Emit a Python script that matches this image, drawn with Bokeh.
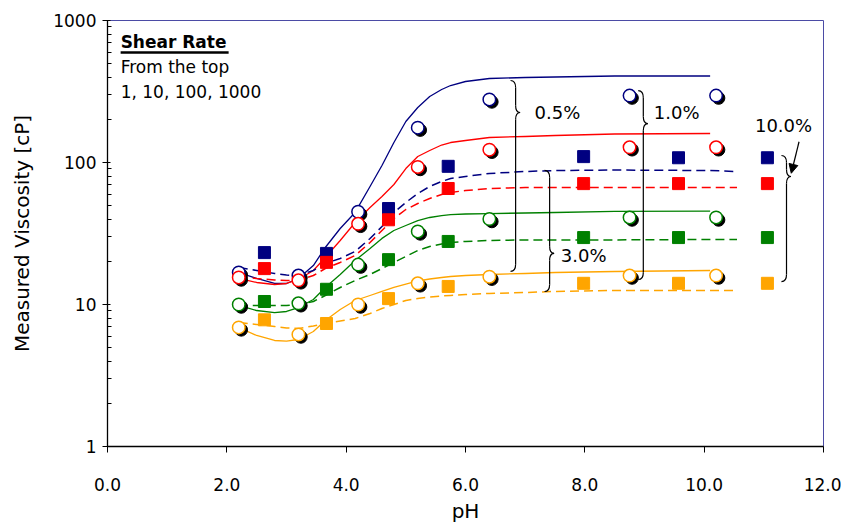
import numpy as np
from bokeh.plotting import figure
from bokeh.models import FixedTicker, Arrow, NormalHead
from bokeh.core.properties import value
from bokeh.embed import file_html
from bokeh.resources import INLINE

# ---------------- data ----------------
circle_ph = [2.2, 3.2, 4.2, 5.2, 6.4, 8.75, 10.2]
circle_navy = [16.8, 16.0, 45.0, 176, 278, 296, 296]
circle_red = [15.5, 14.8, 37.0, 93, 123, 128, 128]
circle_green = [10.0, 10.2, 19.1, 32.7, 40.0, 41.0, 41.0]
circle_orange = [6.9, 6.15, 10.0, 14.1, 15.7, 16.0, 16.0]

square_ph = [2.63, 3.67, 4.71, 5.71, 7.98, 9.57, 11.06]
square_navy = [23.2, 22.9, 47.4, 94, 110, 108, 108]
square_red = [17.9, 19.8, 39.5, 65.6, 71, 71, 71]
square_green = [10.5, 12.8, 20.7, 27.8, 29.6, 29.6, 29.6]
square_orange = [7.8, 7.35, 11.0, 13.4, 14.1, 14.1, 14.1]

# solid fitted curves
fit_ph = [2.2, 2.5, 2.8, 3.0, 3.2, 3.45, 3.65, 3.9, 4.15, 4.4, 4.6, 4.8, 5.0,
          5.2, 5.4, 5.6, 5.75, 6.0, 6.4, 7.0, 7.5, 8.5, 10.1]
fit_navy = [16.8, 15.25, 14.06, 14.06, 15.25, 18.8, 25.2, 34.3, 44.5, 67.8, 95.3,
            138.3, 194.4, 244, 291.6, 326.7, 348.5, 371.9, 390.4, 396.8, 400.1,
            406.7, 406.7]
fit_red = [15.25, 14.29, 13.83, 14.06, 15.0, 17.36, 21.43, 28.23, 37.8, 48.2, 57.6,
           70.0, 90.7, 110.2, 121.5, 132.8, 138.3, 142.9, 150.0, 152.5, 154.9,
           158.8, 160.0]
fit_green = [9.84, 9.07, 8.78, 8.93, 9.52, 10.85, 13.18, 16.27, 20.41, 24.8, 29.2,
             33.2, 36.0, 39.0, 41.0, 42.3, 43.0, 43.4, 43.7, 44.1, 44.45, 45.2, 45.5]
fit_orange = [6.89, 6.05, 5.58, 5.53, 5.67, 6.45, 7.72, 9.22, 10.67, 11.57, 12.35,
              13.18, 13.94, 14.64, 15.12, 15.49, 15.75, 16.0, 16.27, 16.53, 16.8,
              17.08, 17.36]

# dashed fitted curves
dash_ph = [2.2, 2.5, 2.8, 3.0, 3.2, 3.45, 3.65, 3.9, 4.15, 4.4, 4.6, 4.8, 5.0,
           5.2, 5.4, 5.6, 5.75, 6.0, 6.4, 7.0, 7.5, 8.5, 10.1, 10.55]
dash_navy = [18.2, 17.36, 16.53, 16.13, 16.0, 17.36, 19.44, 21.09, 23.62, 29.16,
             35.4, 44.45, 52.3, 60.5, 67.8, 73.5, 77.2, 79.7, 83.7, 86.4, 87.8,
             88.5, 87.8, 86.4]
dash_red = [15.75, 15.25, 14.88, 14.76, 14.76, 16.0, 17.93, 19.78, 22.13, 27.33,
            33.2, 40.33, 46.67, 51.44, 55.8, 59.5, 61.5, 63.5, 65.6, 66.7, 66.7,
            66.7, 66.7, 66.7]
dash_green = [9.84, 9.84, 9.84, 9.84, 9.92, 10.5, 11.57, 13.18, 14.76, 16.27, 17.93,
              19.78, 21.8, 24.0, 25.6, 26.7, 27.33, 27.8, 28.23, 28.5, 28.5, 28.5,
              28.7, 28.7]
dash_orange = [7.47, 7.23, 7.0, 6.83, 6.78, 7.06, 7.35, 7.65, 7.97, 8.64, 9.37,
               10.0, 10.67, 11.02, 11.29, 11.48, 11.57, 11.76, 11.96, 12.15, 12.35,
               12.55, 12.55, 12.55]

x_ticks = [0, 2, 4, 6, 8, 10, 12]
x_tick_labels = ["0.0", "2.0", "4.0", "6.0", "8.0", "10.0", "12.0"]
y_ticks = [1, 10, 100, 1000]
y_tick_labels = ["1", "10", "100", "1000"]

brace_labels = ["0.5%", "1.0%", "3.0%", "10.0%"]
brace_x = [6.84, 8.98, 7.41, 11.38]
brace_top = [378, 321, 87.9, 112]
brace_tip = [225, 188, 22.9, 79.7]
brace_bottom = [17.1, 15.0, 12.35, 14.5]
label_x = [7.54, 9.54, 7.98, 11.33]
label_y = [225, 225, 22.1, 182]

note_lines = ["Shear Rate", "From the top", "1, 10, 100, 1000"]
note_x = 0.22
note_y = [705, 468, 312]

colors = ["#000080", "#FF0000", "#008000", "#FFA500"]
FONT = "DejaVu Sans"

# ---------------- figure ----------------
p = figure(width=841, height=525, x_range=(0, 12), y_range=(1, 1000),
           y_axis_type="log", output_backend="svg", toolbar_location=None,
           min_border_left=107, min_border_right=18, min_border_top=20,
           min_border_bottom=79)
p.background_fill_color = "white"
p.border_fill_color = "white"
p.outline_line_color = "#4B4BA5"
p.outline_line_width = 1
p.xgrid.visible = False
p.ygrid.visible = False

p.xaxis.ticker = FixedTicker(ticks=x_ticks)
p.xaxis.major_label_overrides = {t: l for t, l in zip(x_ticks, x_tick_labels)}
minor_y = [m * 10 ** k for k in range(3) for m in range(2, 10)]
p.yaxis.ticker = FixedTicker(ticks=y_ticks, minor_ticks=minor_y)
p.yaxis.major_label_overrides = {t: l for t, l in zip(y_ticks, y_tick_labels)}

for ax in (p.xaxis[0], p.yaxis[0]):
    ax.axis_line_color = "black"
    ax.axis_line_width = 1.3
    ax.major_tick_line_color = "black"
    ax.minor_tick_line_color = "black"
    ax.major_label_text_font = FONT
    ax.major_label_text_font_size = "17px"
    ax.major_label_text_color = "black"
    ax.axis_label_text_font = FONT
    ax.axis_label_text_font_size = "20px"
    ax.axis_label_text_font_style = "normal"
    ax.axis_label_text_color = "black"

p.xaxis.axis_label = "pH"
p.xaxis.major_tick_in = 0
p.xaxis.major_tick_out = 6
p.xaxis.minor_tick_line_color = None
p.xaxis.major_label_standoff = 25
p.xaxis.axis_label_standoff = 5

p.yaxis.axis_label = "Measured Viscosity [cP]"
p.yaxis.major_tick_in = 3
p.yaxis.major_tick_out = 5
p.yaxis.minor_tick_in = 4
p.yaxis.minor_tick_out = 0
p.yaxis.major_label_standoff = 6
p.yaxis.axis_label_standoff = 16

# ---------------- fitted lines ----------------
for vals, c in zip([fit_navy, fit_red, fit_green, fit_orange], colors):
    p.line(fit_ph, vals, line_color=c, line_width=1.3, line_join="round")
for vals, c in zip([dash_navy, dash_red, dash_green, dash_orange], colors):
    p.line(dash_ph, vals, line_color=c, line_width=1.5, line_dash="9 5",
           line_join="round")

# ---------------- braces ----------------
w, tw, d = 0.085, 0.075, 0.05
qx0, qy0, qx1, qy1, qcx, qcy = [], [], [], [], [], []
sx0, sy0, sx1, sy1 = [], [], [], []
for x, top, tip, bot in zip(brace_x, brace_top, brace_tip, brace_bottom):
    Lt, Lp, Lb = np.log10([top, tip, bot])
    for (a, b, c_, e, f, g) in [(x - w, Lt, x, Lt - d, x, Lt),
                                (x, Lp + d, x + tw, Lp, x, Lp),
                                (x + tw, Lp, x, Lp - d, x, Lp),
                                (x, Lb + d, x - w, Lb, x, Lb)]:
        qx0.append(a); qy0.append(10 ** b); qx1.append(c_); qy1.append(10 ** e)
        qcx.append(f); qcy.append(10 ** g)
    for (a, b, c_, e) in [(x, Lt - d, x, Lp + d), (x, Lp - d, x, Lb + d)]:
        sx0.append(a); sy0.append(10 ** b); sx1.append(c_); sy1.append(10 ** e)
p.quadratic(x0=qx0, y0=qy0, x1=qx1, y1=qy1, cx=qcx, cy=qcy,
            line_color="black", line_width=1.2)
p.segment(x0=sx0, y0=sy0, x1=sx1, y1=sy1, line_color="black", line_width=1.2)

p.text(x=label_x, y=label_y, text=brace_labels, text_font=value(FONT),
       text_font_size=value("18px"), text_align="center",
       text_baseline="middle", text_color="black")

p.add_layout(Arrow(end=NormalHead(size=9, fill_color="black", line_color="black"),
                   x_start=11.59, y_start=140, x_end=11.46, y_end=84,
                   line_color="black", line_width=1.2))

# ---------------- markers ----------------
sdx = 0.042
sfy = 10 ** (-2.5 / 142)
for vals, c in zip([circle_navy, circle_red, circle_green, circle_orange], colors):
    p.scatter([x + sdx for x in circle_ph], [v * sfy for v in vals], marker="circle",
              size=12.5, fill_color="black", line_color="black")
    p.scatter(circle_ph, vals, marker="circle", size=12.5, fill_color="white",
              line_color=c, line_width=1.5)
for vals, c in zip([square_navy, square_red, square_green, square_orange], colors):
    p.scatter(square_ph, vals, marker="square", size=12, fill_color=c,
              line_color=c)

# ---------------- note ----------------
p.text(x=[note_x], y=[note_y[0]], text=[note_lines[0]], text_font=value(FONT),
       text_font_size=value("17px"), text_font_style="bold", text_align="left",
       text_baseline="alphabetic", text_color="black")
p.text(x=[note_x, note_x], y=note_y[1:], text=note_lines[1:], text_font=value(FONT),
       text_font_size=value("17px"), text_align="left",
       text_baseline="alphabetic", text_color="black")
p.segment(x0=[note_x], y0=[595], x1=[2.03], y1=[595], line_color="black",
          line_width=2.5)

open("out.html", "w").write(file_html(p, INLINE))
